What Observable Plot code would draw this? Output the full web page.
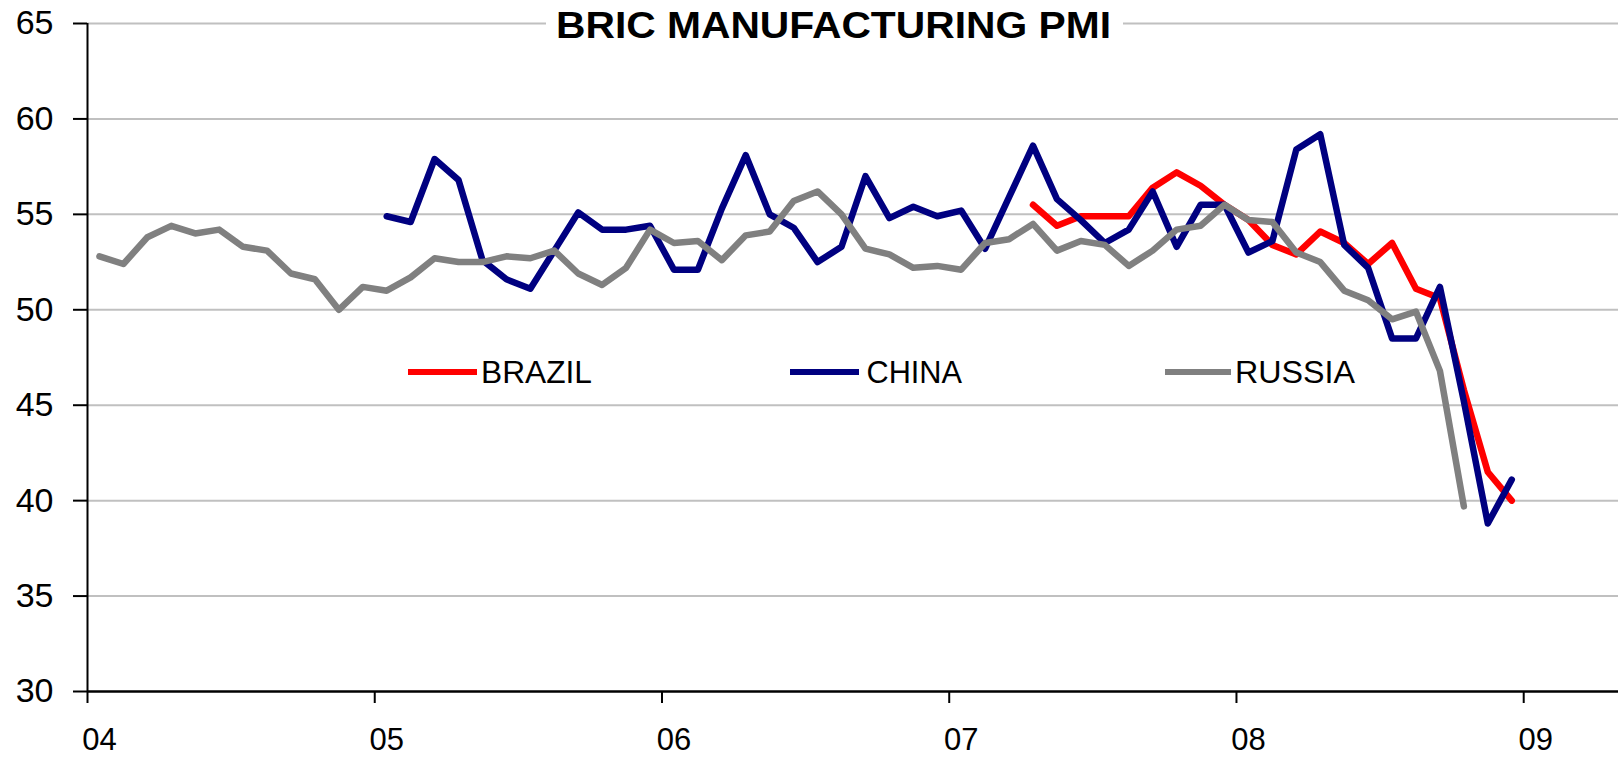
<!DOCTYPE html>
<html>
<head>
<meta charset="utf-8">
<script src="https://cdn.jsdelivr.net/npm/d3@7"></script>
<script src="https://cdn.jsdelivr.net/npm/@observablehq/plot@0.6"></script>
<style>
  html, body { margin: 0; padding: 0; background: #fff; }
  #chart svg { display: block; }
</style>
</head>
<body>
<div id="chart"></div>
<script>
// ---- data (monthly manufacturing PMI) ----
const seriesNames = ["BRAZIL", "CHINA", "RUSSIA"];
const seriesColors = ["#ff0000", "#000080", "#808080"];

// first month of each series [year, month]
const brazilStart = [2007, 4];
const chinaStart = [2005, 1];
const russiaStart = [2004, 1];

const brazil = [
  55.5, 54.4, 54.9, 54.9, 54.9, 56.4, 57.2, 56.5, 55.5,
  54.7, 53.4, 52.9, 54.1, 53.5, 52.4, 53.5, 51.1, 50.6, 45.8, 41.5, 40.0
];
const china = [
  54.9, 54.6, 57.9, 56.8, 52.6, 51.6, 51.1, 53.1, 55.1, 54.2, 54.2, 54.4,
  52.1, 52.1, 55.3, 58.1, 55.0, 54.3, 52.5, 53.3, 57.0, 54.8, 55.4, 54.9,
  55.2, 53.2, 55.9, 58.6, 55.8, 54.7, 53.5, 54.2, 56.2, 53.3, 55.5, 55.5,
  53.0, 53.6, 58.4, 59.2, 53.4, 52.2, 48.5, 48.5, 51.2, 45.2, 38.8, 41.1
];
const russia = [
  52.8, 52.4, 53.8, 54.4, 54.0, 54.2, 53.3, 53.1, 51.9, 51.6, 50.0, 51.2,
  51.0, 51.7, 52.7, 52.5, 52.5, 52.8, 52.7, 53.1, 51.9, 51.3, 52.2, 54.2,
  53.5, 53.6, 52.6, 53.9, 54.1, 55.7, 56.2, 55.0, 53.2, 52.9, 52.2, 52.3,
  52.1, 53.5, 53.7, 54.5, 53.1, 53.6, 53.4, 52.3, 53.1, 54.2, 54.4, 55.5,
  54.7, 54.6, 53.0, 52.5, 51.0, 50.5, 49.5, 49.9, 46.8, 39.7
];

const xTickYears = [2004, 2005, 2006, 2007, 2008, 2009];
const xTickLabels = ["04", "05", "06", "07", "08", "09"];
const yTicks = [30, 35, 40, 45, 50, 55, 60, 65];
const title = "BRIC MANUFACTURING PMI";

// ---- build table ----
function toRows(name, start, values) {
  return values.map((v, i) => ({
    country: name,
    x: start[0] + (start[1] - 1 + i + 0.5) / 12,
    value: v
  }));
}
const rows = [
  ...toRows("BRAZIL", brazilStart, brazil),
  ...toRows("CHINA", chinaStart, china),
  ...toRows("RUSSIA", russiaStart, russia)
];

const W = 1618, H = 757;
const chart = Plot.plot({
  width: W,
  height: H,
  marginLeft: 87,
  marginRight: 0,
  marginTop: 23,
  marginBottom: 66,
  style: { fontFamily: "'Liberation Sans', Arial, sans-serif", color: "#000", background: "#fff" },
  x: { type: "linear", domain: [2004, 2009.33] },
  y: { domain: [30, 65] },
  color: { domain: seriesNames, range: seriesColors },
  marks: [
    Plot.gridY(yTicks.filter(d => d > 30), { stroke: "#c0c0c0", strokeOpacity: 1, strokeWidth: 2 }),
    Plot.ruleY([30], { stroke: "#000", strokeWidth: 2.5 }),
    Plot.ruleX([2004], { stroke: "#000", strokeWidth: 2 }),
    Plot.axisY(yTicks, { tickSize: 14, tickPadding: 20, fontSize: 34, stroke: "#000", strokeWidth: 2, label: null }),
    Plot.axisX(xTickYears, { tickSize: 12, tickFormat: () => "", stroke: "#000", strokeWidth: 2, label: null }),
    Plot.axisX(xTickYears.map(d => d + 0.5 / 12), {
      tickSize: 0, tickPadding: 36, fontSize: 31, label: null,
      tickFormat: d => xTickLabels[xTickYears.indexOf(Math.floor(d))]
    }),
    Plot.line(rows, { x: "x", y: "value", z: "country", stroke: "country", strokeWidth: 6.5 })
  ]
});
document.getElementById("chart").appendChild(chart);

// ---- title (with white box over the top gridline) and in-plot legend ----
const svg = d3.select(chart);
const tg = svg.append("g").attr("class", "title").attr("text-anchor", "start");
tg.append("rect").attr("x", 546).attr("y", 4).attr("width", 577).attr("height", 42).attr("fill", "#fff");
tg.append("text")
  .attr("x", 556).attr("y", 38.3)
  .attr("text-anchor", "start")
  .attr("font-size", 36).attr("font-weight", "bold")
  .attr("fill", "#000")
  .attr("textLength", 555).attr("lengthAdjust", "spacingAndGlyphs")
  .text(title);

const legendPos = [
  { x1: 408, x2: 477, tx: 481, tw: 111 },
  { x1: 790, x2: 859, tx: 866.5, tw: 95.5 },
  { x1: 1165, x2: 1231, tx: 1235, tw: 120 }
];
const lg = svg.append("g").attr("class", "legend").attr("text-anchor", "start");
seriesNames.forEach((name, i) => {
  const p = legendPos[i];
  lg.append("line")
    .attr("x1", p.x1).attr("x2", p.x2).attr("y1", 372).attr("y2", 372)
    .attr("stroke", seriesColors[i]).attr("stroke-width", 6);
  lg.append("text")
    .attr("x", p.tx).attr("y", 383)
    .attr("text-anchor", "start")
    .attr("font-size", 31).attr("fill", "#000")
    .attr("textLength", p.tw).attr("lengthAdjust", "spacingAndGlyphs")
    .text(name);
});
</script>
</body>
</html>
